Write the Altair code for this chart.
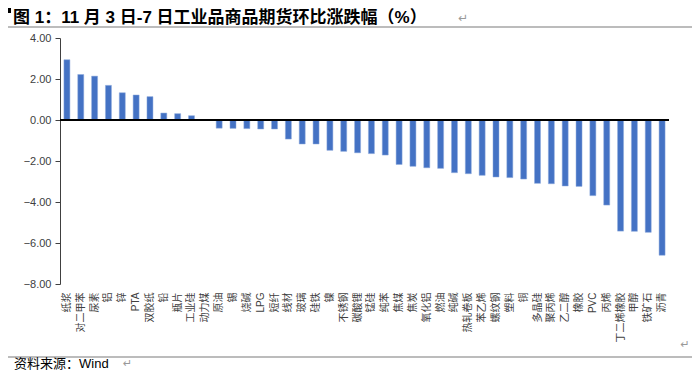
import altair as alt
import pandas as pd

categories = ["纸浆", "对二甲苯", "尿素", "铝", "锌", "PTA", "双胶纸", "铅", "瓶片", "工业硅",
              "动力煤", "原油", "锡", "烧碱", "LPG", "短纤", "线材", "玻璃", "硅铁", "镍",
              "不锈钢", "碳酸锂", "锰硅", "纯苯", "焦煤", "焦炭", "氧化铝", "燃油", "纯碱", "热轧卷板",
              "苯乙烯", "螺纹钢", "塑料", "铜", "多晶硅", "聚丙烯", "乙二醇", "橡胶", "PVC", "丙烯",
              "丁二烯橡胶", "甲醇", "铁矿石", "沥青"]
values = [2.94, 2.22, 2.14, 1.69, 1.33, 1.22, 1.14, 0.34, 0.31, 0.21,
          0.0, -0.40, -0.41, -0.42, -0.44, -0.44, -0.93, -1.17, -1.17, -1.48,
          -1.53, -1.60, -1.64, -1.71, -2.17, -2.26, -2.33, -2.36, -2.57, -2.62,
          -2.70, -2.78, -2.81, -2.88, -3.09, -3.11, -3.22, -3.24, -3.69, -4.15,
          -5.42, -5.43, -5.48, -6.60]
y_ticks = [-8, -6, -4, -2, 0, 2, 4]
title_text = "图 1：11 月 3 日-7 日工业品商品期货环比涨跌幅（%）"
source_text = "资料来源：Wind"

df = pd.DataFrame({"cat": categories, "val": values})

W, H = 609, 246
LATIN_CJK = "'Liberation Sans', 'Noto Sans CJK SC'"

x_enc = alt.X("cat:N", sort=categories, title=None,
              scale=alt.Scale(paddingInner=0, paddingOuter=0),
              axis=alt.Axis(labelAngle=-90, labelPadding=8, labelFontSize=10,
                            labelFont=LATIN_CJK, labelColor="#404040",
                            domain=False, ticks=False, labelOverlap=False,
                            labelLimit=0))
y_enc = alt.Y("val:Q", title=None,
              scale=alt.Scale(domain=[-8, 4], nice=False, zero=False),
              axis=alt.Axis(values=y_ticks, format=".2f", grid=False,
                            tickSize=5, labelPadding=4, labelFontSize=11,
                            labelFont="Liberation Sans", labelColor="#404040",
                            domainColor="#404040", tickColor="#404040"))

bars = alt.Chart(df).mark_bar(size=6, color="#4472C4", stroke="#8FAADC",
                              strokeWidth=0.5).encode(x=x_enc, y=y_enc)

zero = alt.Chart(df).mark_rule(color="#000000", strokeWidth=1).encode(
    y=alt.datum(0))

one = alt.InlineData(values=[{"a": 1}])

title = alt.Chart(one).mark_text(align="left", baseline="middle", fontSize=17,
                                 fontWeight="bold", font=LATIN_CJK,
                                 color="#000000").encode(
    x=alt.value(-47), y=alt.value(-20), text=alt.value(title_text))
title_ret = alt.Chart(one).mark_text(align="left", baseline="middle", fontSize=12,
                                     font="DejaVu Sans", color="#999999").encode(
    x=alt.value(398), y=alt.value(-20), text=alt.value("↵"))
square = alt.Chart(one).mark_rect(color="#000000").encode(
    x=alt.value(-52), x2=alt.value(-49), y=alt.value(-30), y2=alt.value(-25))
top_line = alt.Chart(one).mark_rule(color="#A6A6A6", strokeWidth=1.5).encode(
    x=alt.value(-52), x2=alt.value(640), y=alt.value(-11))
bottom_line = alt.Chart(one).mark_rule(color="#A6A6A6", strokeWidth=1.5).encode(
    x=alt.value(-52), x2=alt.value(640), y=alt.value(319))
source = alt.Chart(one).mark_text(align="left", baseline="middle", fontSize=13,
                                  font=LATIN_CJK, color="#000000").encode(
    x=alt.value(-46), y=alt.value(326), text=alt.value(source_text))
source_ret = alt.Chart(one).mark_text(align="left", baseline="middle", fontSize=11,
                                      font="DejaVu Sans", color="#999999").encode(
    x=alt.value(63), y=alt.value(326), text=alt.value("↵"))
corner_ret = alt.Chart(one).mark_text(align="center", baseline="middle", fontSize=11,
                                      font="DejaVu Sans", color="#999999").encode(
    x=alt.value(625), y=alt.value(307), text=alt.value("↵"))

chart = alt.layer(bars, zero, title, title_ret, square, top_line, bottom_line,
                  source, source_ret, corner_ret).properties(
    width=W, height=H,
    autosize=alt.AutoSizeParams(type="none"),
    padding={"left": 52, "top": 30, "right": 23, "bottom": 87},
    background="white",
).configure_view(stroke=None)

chart.save("out.html", embed_options={"renderer": "svg", "actions": False})
